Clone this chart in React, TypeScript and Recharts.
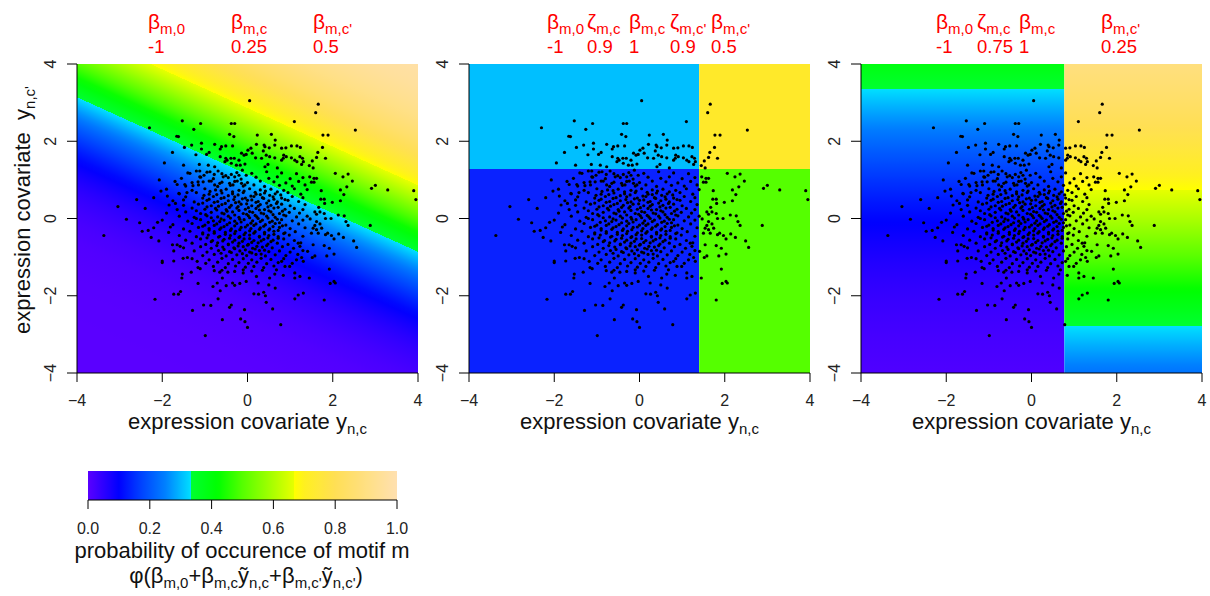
import React from 'react';
import { ScatterChart, Scatter, XAxis, YAxis, ReferenceArea } from 'recharts';

// ---------- data ----------
const axisTicks = [-4, -2, 0, 2, 4];
const barTicks = [0, 0.2, 0.4, 0.6, 0.8, 1.0];

const panel1Params = [
    { sym: 'β', sub: 'm,0', value: '-1' },
    { sym: 'β', sub: 'm,c', value: '0.25' },
    { sym: 'β', sub: "m,c'", value: '0.5' },
];
const panel2Params = [
    { sym: 'β', sub: 'm,0', value: '-1' },
    { sym: 'ζ', sub: 'm,c', value: '0.9' },
    { sym: 'β', sub: 'm,c', value: '1' },
    { sym: 'ζ', sub: "m,c'", value: '0.9' },
    { sym: 'β', sub: "m,c'", value: '0.5' },
];
const panel3Params = [
    { sym: 'β', sub: 'm,0', value: '-1' },
    { sym: 'ζ', sub: 'm,c', value: '0.75' },
    { sym: 'β', sub: 'm,c', value: '1' },
    { sym: 'β', sub: "m,c'", value: '0.25' },
];

// points above the dense core
const upperPoints = [
    [-1.53, 2.53], [-1.1, 2.46], [-2.3, 2.35], [-1.26, 2.31], [-0.38, 2.46], [-0.3, 2.46], [-1.66, 2.13], [-1.62, 2.12],
    [-0.42, 2.18], [-0.32, 2.12], [-1.48, 1.84], [-1.31, 1.9], [-1.08, 1.95], [-1.08, 1.8], [-0.77, 1.92], [-0.61, 1.86],
    [-0.51, 1.88], [-0.64, 1.8], [-0.35, 1.88], [-1.76, 1.71], [-1.21, 1.65], [-0.96, 1.66], [-0.9, 1.71], [-0.64, 1.6],
    [-0.51, 1.56], [-0.48, 1.51], [-0.53, 1.47], [-0.39, 1.56], [-0.31, 1.56], [-0.2, 1.51], [-0.14, 1.69], [-0.08, 1.64],
    [-0.03, 1.66], [-1.95, 1.44], [-1.5, 1.38], [-1.13, 1.4], [-0.92, 1.38], [-0.77, 1.34], [-0.38, 1.43], [-0.26, 1.38],
    [-0.17, 1.38], [-0.06, 1.41],
    [0.05, 3.05], [1.66, 2.96], [1.6, 2.74], [1.1, 2.51], [2.53, 2.29], [1.77, 2.16], [1.89, 2.16], [0.23, 2.16],
    [0.56, 2.18], [0.65, 2.03], [0.64, 1.9], [0.21, 1.92], [0.39, 1.9], [0.41, 1.86], [0.51, 1.83], [0.08, 1.82],
    [0.01, 1.77], [0.11, 1.69], [0.37, 1.75], [0.44, 1.64], [0.52, 1.6], [0.8, 1.82], [0.9, 1.83], [1.03, 1.88],
    [1.16, 1.88], [1.24, 1.84], [0.85, 1.64], [0.84, 1.56], [0.8, 1.51], [0.91, 1.6], [0.64, 1.57], [0.7, 1.31],
    [1.03, 1.57], [1.11, 1.51], [1.16, 1.47], [1.23, 1.6], [1.29, 1.56], [1.31, 1.47], [1.27, 1.4], [0.19, 1.57],
    [0.33, 1.56], [0.48, 1.4], [0.41, 1.34], [1.76, 1.84], [1.65, 1.71], [1.62, 1.58], [1.83, 1.56], [1.52, 1.49],
    [1.45, 1.37], [1.54, 1.31],
];

// points left of the core
const leftPoints = [
    [-2.07, 1.0], [-2.03, 0.71], [-1.88, 0.58], [-2.6, 0.49], [-3.04, 0.31], [-2.84, -0.02], [-1.84, 0.35], [-1.69, 0.39],
    [-1.65, 0.88], [-1.47, 0.88], [-1.61, 0.65], [-1.42, 0.67], [-1.5, 0.48], [-1.35, 1.17], [-1.28, 0.85], [-1.16, 0.95],
    [-1.12, 1.08], [-1.2, 1.23], [-1.12, 1.23], [-1.02, 1.12], [-0.88, 1.21], [-0.78, 1.14], [-0.69, 1.23], [-1.04, 0.95],
    [-0.85, 0.97], [-0.77, 0.87], [-0.65, 0.91], [-0.57, 1.08], [-0.51, 1.11], [-0.38, 1.14], [-0.3, 1.08], [-0.2, 1.12],
    [-0.12, 1.25], [-0.03, 1.12], [-0.42, 0.91], [-0.34, 0.87], [-0.24, 0.97], [-0.14, 0.91], [-0.06, 0.87],
    [-3.37, -0.44], [-2.53, -0.11], [-2.47, -0.33], [-2.33, -0.31], [-2.11, -0.1], [-2.26, -0.49], [-2.08, -0.58],
    [-1.81, -0.22], [-2.0, -1.1], [-2.0, -1.14], [-1.76, -0.68], [-1.65, -0.68], [-1.58, -0.72], [-1.73, -0.84],
    [-1.51, -1.03], [-1.41, -1.01], [-1.73, -1.1],
];

// points below the core
const lowerPoints = [
    [-2.17, -2.09], [-1.53, -1.44], [-1.54, -1.54], [-1.73, -1.96], [-1.62, -1.96], [-1.57, -1.89], [-1.29, -2.38],
    [-0.99, -3.03], [-1.03, -2.24], [-0.86, -2.25], [-1.16, -1.68], [-1.32, -1.39], [-1.16, -1.27], [-1.11, -1.3],
    [-1.18, -1.11], [-0.78, -1.35], [-0.65, -1.39], [-0.46, -1.39], [-0.59, -1.54], [-0.71, -1.67], [-0.81, -1.76],
    [-0.69, -2.08], [-0.64, -1.87], [-0.5, -1.74], [-0.35, -1.67], [-0.3, -1.73], [-0.42, -2.3], [-0.38, -2.24],
    [-0.59, -2.62], [-0.16, -2.6], [-0.07, -2.36], [-0.06, -2.67], [0.0, -2.82], [-0.18, -1.68], [-0.03, -1.63],
    [-0.1, -1.41], [0.44, -2.17], [0.59, -2.34], [0.78, -2.75], [0.15, -1.95], [0.26, -1.96], [0.38, -1.91],
    [0.42, -2.0], [1.11, -2.08], [1.19, -1.98], [1.31, -1.93], [0.65, -1.8], [0.5, -1.72], [0.25, -1.67], [0.21, -1.5],
    [0.52, -1.54], [0.64, -1.44], [0.84, -1.47], [1.11, -1.54], [1.23, -1.5], [1.11, -1.41], [0.99, -1.24], [0.88, -1.24],
    [0.8, -1.11], [0.68, -1.33], [1.15, -1.07], [1.27, -1.01], [1.31, -1.11], [1.19, -0.64], [1.23, -0.72],
];

// points right of the core
const rightPoints = [
    [2.06, 1.17], [2.24, 1.08], [2.36, 1.15], [2.46, 0.97], [2.33, 0.82], [2.91, 0.78], [3.0, 0.86], [3.29, 0.74],
    [3.9, 0.72], [3.95, 0.49], [2.18, 0.74], [2.26, 0.62], [2.18, 0.46], [1.99, 0.42], [1.81, 0.39], [1.72, 0.5],
    [1.8, 0.5], [1.73, 0.72], [1.56, 1.04], [1.62, 1.04], [1.5, 0.94], [1.46, 1.08], [1.56, 0.94], [1.67, 0.29],
    [1.7, 0.17], [1.58, 0.17], [1.62, 0.11], [1.8, 0.13], [1.83, 0.0], [1.96, 0.0], [2.13, 0.09], [2.27, 0.07],
    [2.88, -0.18], [2.49, -0.58], [2.56, -0.75], [2.31, -0.08], [2.36, -0.18], [2.25, -0.49], [2.14, -0.4],
    [2.03, -0.53], [1.97, -0.44], [1.88, -0.38], [1.83, -0.42], [1.62, -0.08], [1.7, -0.14], [1.58, -0.18],
    [1.54, -0.25], [1.62, -0.29], [1.66, -0.38], [1.74, -0.25], [1.54, -0.68], [1.8, -0.7], [1.92, -0.77],
    [2.03, -0.92], [1.86, -0.97], [1.58, -0.97], [1.52, -1.01], [1.92, -1.31], [1.45, -1.54], [1.94, -1.68],
    [2.03, -1.63], [2.06, -1.67], [1.8, -2.11], [1.47, -0.01], [1.5, -0.38], [1.41, -0.85],
];

// dense core, estimated row by row
const corePoints = [
    [-1.4, 1.18], [-0.95, 1.2], [-0.6, 1.16], [-0.25, 1.19], [0.1, 1.17], [0.45, 1.21], [0.8, 1.18], [1.15, 1.16],
    [-1.55, 1.04], [-1.1, 1.07], [-0.8, 1.03], [-0.45, 1.06], [-0.15, 1.02], [0.2, 1.07], [0.5, 1.04], [0.7, 1.08], [1.0, 1.03], [1.3, 1.06],
    [-1.7, 0.96], [-1.3, 0.93], [-0.9, 0.97], [-0.6, 0.94], [-0.3, 0.96], [0.0, 0.93], [0.3, 0.97], [0.62, 0.95], [0.9, 0.92], [1.2, 0.96],
    [-1.45, 0.84], [-1.15, 0.87], [-0.7, 0.83], [-0.4, 0.86], [-0.1, 0.84], [0.15, 0.87], [0.4, 0.83], [0.75, 0.86], [1.05, 0.84], [1.35, 0.87],
    [-1.9, 0.76], [-1.3, 0.73], [-1.0, 0.77], [-0.75, 0.74], [-0.5, 0.76], [-0.2, 0.73], [0.05, 0.77], [0.3, 0.74], [0.55, 0.76], [0.85, 0.73], [1.1, 0.77], [1.4, 0.75],
    [-1.6, 0.64], [-1.2, 0.67], [-0.9, 0.63], [-0.6, 0.66], [-0.35, 0.64], [-0.1, 0.67], [0.2, 0.63], [0.4, 0.66], [0.65, 0.64], [0.95, 0.67], [1.25, 0.63],
    [-2.2, 0.54], [-1.45, 0.56], [-1.05, 0.53], [-0.8, 0.57], [-0.55, 0.54], [-0.3, 0.56], [-0.05, 0.53], [0.15, 0.57], [0.35, 0.54], [0.6, 0.56], [0.8, 0.53], [1.05, 0.57], [1.3, 0.54],
    [-1.75, 0.46], [-1.25, 0.43], [-0.95, 0.47], [-0.7, 0.44], [-0.45, 0.46], [-0.2, 0.43], [0.0, 0.47], [0.25, 0.44], [0.5, 0.46], [0.7, 0.43], [0.95, 0.47], [1.2, 0.44],
    [-1.5, 0.34], [-1.15, 0.37], [-0.85, 0.33], [-0.6, 0.36], [-0.38, 0.34], [-0.15, 0.37], [0.1, 0.33], [0.3, 0.36], [0.55, 0.34], [0.8, 0.37], [1.0, 0.33], [1.35, 0.36],
    [-2.4, 0.26], [-1.65, 0.23], [-1.3, 0.27], [-1.0, 0.24], [-0.75, 0.26], [-0.5, 0.23], [-0.25, 0.27], [-0.05, 0.24], [0.2, 0.26], [0.4, 0.23], [0.62, 0.27], [0.88, 0.24], [1.1, 0.26], [1.3, 0.23],
    [-1.9, 0.14], [-1.45, 0.17], [-1.1, 0.13], [-0.85, 0.16], [-0.6, 0.14], [-0.35, 0.17], [-0.1, 0.13], [0.12, 0.16], [0.32, 0.14], [0.55, 0.17], [0.75, 0.13], [0.98, 0.16], [1.22, 0.14],
    [-1.6, 0.06], [-1.25, 0.03], [-0.95, 0.07], [-0.7, 0.04], [-0.45, 0.06], [-0.2, 0.03], [0.02, 0.07], [0.22, 0.04], [0.45, 0.06], [0.65, 0.03], [0.9, 0.07], [1.15, 0.04], [1.4, 0.06],
    [-2.0, -0.04], [-1.4, -0.07], [-1.1, -0.03], [-0.8, -0.06], [-0.55, -0.04], [-0.3, -0.07], [-0.08, -0.03], [0.12, -0.06], [0.35, -0.04], [0.58, -0.07], [0.8, -0.03], [1.05, -0.06], [1.3, -0.04],
    [-1.75, -0.16], [-1.3, -0.13], [-1.0, -0.17], [-0.72, -0.14], [-0.48, -0.16], [-0.25, -0.13], [0.0, -0.17], [0.2, -0.14], [0.42, -0.16], [0.65, -0.13], [0.9, -0.17], [1.2, -0.14],
    [-2.2, -0.24], [-1.5, -0.27], [-1.15, -0.23], [-0.9, -0.26], [-0.62, -0.24], [-0.38, -0.27], [-0.15, -0.23], [0.08, -0.26], [0.3, -0.24], [0.52, -0.27], [0.75, -0.23], [1.0, -0.26], [1.35, -0.24],
    [-1.85, -0.36], [-1.35, -0.33], [-1.05, -0.37], [-0.78, -0.34], [-0.52, -0.36], [-0.28, -0.33], [-0.05, -0.37], [0.18, -0.34], [0.4, -0.36], [0.62, -0.33], [0.88, -0.37], [1.12, -0.34],
    [-1.6, -0.44], [-1.2, -0.47], [-0.92, -0.43], [-0.65, -0.46], [-0.4, -0.44], [-0.18, -0.47], [0.05, -0.43], [0.28, -0.46], [0.5, -0.44], [0.72, -0.47], [0.98, -0.43], [1.3, -0.46],
    [-1.45, -0.56], [-1.1, -0.53], [-0.82, -0.57], [-0.55, -0.54], [-0.3, -0.56], [-0.08, -0.53], [0.15, -0.57], [0.38, -0.54], [0.6, -0.56], [0.85, -0.53], [1.1, -0.57],
    [-1.3, -0.64], [-0.98, -0.67], [-0.7, -0.63], [-0.45, -0.66], [-0.2, -0.64], [0.02, -0.67], [0.25, -0.63], [0.48, -0.66], [0.7, -0.64], [0.95, -0.67], [1.25, -0.63],
    [-1.5, -0.76], [-1.1, -0.73], [-0.85, -0.77], [-0.58, -0.74], [-0.32, -0.76], [-0.1, -0.73], [0.12, -0.77], [0.35, -0.74], [0.58, -0.76], [0.82, -0.73], [1.08, -0.77],
    [-1.25, -0.84], [-0.95, -0.87], [-0.68, -0.83], [-0.42, -0.86], [-0.18, -0.84], [0.05, -0.87], [0.28, -0.83], [0.5, -0.86], [0.75, -0.84], [1.0, -0.87], [1.3, -0.83],
    [-1.05, -0.96], [-0.78, -0.93], [-0.5, -0.97], [-0.25, -0.94], [-0.02, -0.96], [0.2, -0.93], [0.42, -0.97], [0.65, -0.94], [0.9, -0.96], [1.18, -0.93],
    [-1.3, -1.04], [-0.9, -1.07], [-0.6, -1.03], [-0.35, -1.06], [-0.1, -1.04], [0.1, -1.07], [0.32, -1.03], [0.55, -1.06], [0.85, -1.04],
    [-0.98, -1.16], [-0.7, -1.13], [-0.45, -1.17], [-0.2, -1.14], [0.02, -1.16], [0.22, -1.13], [0.45, -1.17], [0.72, -1.14], [1.05, -1.16],
    [-0.8, -1.24], [-0.52, -1.27], [-0.28, -1.23], [-0.05, -1.26], [0.15, -1.24], [0.38, -1.27], [0.62, -1.23],
    [-0.6, -1.34], [-0.3, -1.37], [-0.1, -1.33], [0.1, -1.36], [0.35, -1.34],
];

// extra points where the cloud is darkest
const centerPoints = [
    [-0.88, 0.7], [-0.62, 0.72], [-0.35, 0.69], [-0.08, 0.71], [0.18, 0.68], [0.42, 0.71], [0.7, 0.69],
    [-1.02, 0.6], [-0.72, 0.62], [-0.45, 0.59], [-0.22, 0.61], [0.08, 0.58], [0.3, 0.62], [0.52, 0.6], [0.78, 0.61],
    [-0.9, 0.5], [-0.62, 0.52], [-0.32, 0.49], [-0.12, 0.51], [0.1, 0.48], [0.38, 0.52], [0.62, 0.5], [0.88, 0.49],
    [-1.05, 0.4], [-0.78, 0.42], [-0.52, 0.39], [-0.28, 0.41], [-0.02, 0.38], [0.2, 0.42], [0.45, 0.4], [0.68, 0.39],
    [-0.95, 0.3], [-0.68, 0.32], [-0.42, 0.29], [-0.22, 0.31], [0.02, 0.28], [0.25, 0.32], [0.48, 0.3], [0.72, 0.29],
    [-1.2, 0.2], [-0.72, 0.22], [-0.48, 0.19], [-0.2, 0.21], [0.05, 0.18], [0.28, 0.22], [0.5, 0.2], [0.82, 0.19],
    [-0.98, 0.1], [-0.55, 0.12], [-0.3, 0.09], [-0.02, 0.11], [0.18, 0.08], [0.38, 0.12], [0.6, 0.1], [0.85, 0.09],
    [-1.2, 0.0], [-0.85, 0.02], [-0.62, -0.01], [-0.4, 0.01], [-0.18, -0.02], [0.05, 0.02], [0.25, 0.0], [0.48, 0.01], [0.7, -0.02],
    [-0.92, -0.1], [-0.65, -0.08], [-0.42, -0.11], [-0.15, -0.09], [0.08, -0.12], [0.3, -0.08], [0.52, -0.1], [0.75, -0.11],
    [-1.05, -0.2], [-0.78, -0.18], [-0.55, -0.21], [-0.3, -0.19], [-0.05, -0.22], [0.15, -0.18], [0.38, -0.2], [0.6, -0.21], [0.82, -0.19],
    [-0.9, -0.3], [-0.65, -0.28], [-0.4, -0.31], [-0.18, -0.29], [0.05, -0.32], [0.28, -0.28], [0.5, -0.3], [0.72, -0.31],
    [-1.05, -0.4], [-0.78, -0.38], [-0.52, -0.41], [-0.3, -0.39], [-0.08, -0.42], [0.15, -0.38], [0.4, -0.4], [0.62, -0.41], [0.85, -0.39],
    [-0.95, -0.5], [-0.68, -0.48], [-0.42, -0.51], [-0.2, -0.49], [0.05, -0.52], [0.28, -0.48], [0.48, -0.5], [0.72, -0.51],
    [-0.85, -0.6], [-0.58, -0.58], [-0.35, -0.61], [-0.12, -0.59], [0.1, -0.62], [0.32, -0.58], [0.55, -0.6],
    [-0.72, -0.7], [-0.45, -0.68], [-0.22, -0.71], [0.0, -0.69], [0.22, -0.72], [0.45, -0.7],
    [-0.55, -0.8], [-0.3, -0.78], [-0.05, -0.81], [0.18, -0.79], [0.4, -0.82],
    [-0.62, -0.9], [-0.38, -0.88], [-0.12, -0.91], [0.1, -0.89], [0.32, -0.92],
];

const points = [...upperPoints, ...leftPoints, ...lowerPoints, ...rightPoints, ...corePoints, ...centerPoints]
    .map(([x, y]) => ({ x, y }));

// split points and flat colours of the tree panel (panel 2)
const panel2SplitX = 1.4;
const panel2SplitY = 1.28;
const panel2Fill = { topLeft: '#00bfff', bottomLeft: '#0a22ff', topRight: '#ffe92a', bottomRight: '#55ff00' };
// panel 3 split
const panel3SplitX = 0.77;

// ---------- colour scale ----------
const colorStops: [number, string][] = [
    [0, '#5a00ff'], [0.1, '#0000ff'], [0.17, '#0040ff'], [0.25, '#0080ff'], [0.3333, '#00e0ff'],
    [0.3334, '#00ff30'], [0.42, '#00ff00'], [0.5, '#55ff00'], [0.6666, '#e6ff00'],
    [0.6667, '#ffff00'], [0.7, '#fff020'], [0.8, '#ffdf55'], [1, '#ffe0b0'],
];

const hex = (c: string) => [1, 3, 5].map(i => parseInt(c.slice(i, i + 2), 16));
function probColor(p: number) {
    p = Math.min(1, Math.max(0, p));
    for (let i = 1; i < colorStops.length; i++) {
        const [p1, c1] = colorStops[i];
        if (p <= p1) {
            const [p0, c0] = colorStops[i - 1];
            const t = p1 === p0 ? 0 : (p - p0) / (p1 - p0);
            const a = hex(c0), b = hex(c1);
            return `rgb(${a.map((v, k) => Math.round(v + (b[k] - v) * t)).join(',')})`;
        }
    }
    return colorStops[colorStops.length - 1][1];
}

function erf(x: number) {
    const s = Math.sign(x);
    x = Math.abs(x);
    const t = 1 / (1 + 0.3275911 * x);
    const y = 1 - ((((1.061405429 * t - 1.453152027) * t + 1.421413741) * t - 0.284496736) * t + 0.254829592) * t * Math.exp(-x * x);
    return s * y;
}
const phi = (z: number) => 0.5 * (1 + erf(z / Math.SQRT2));

// gradient stops for a linear predictor running from lo (offset 0) to hi (offset 1)
function predictorStops(lo: number, hi: number, n = 80) {
    const stops: { o: number; c: string }[] = [];
    for (let i = 0; i <= n; i++) stops.push({ o: i / n, c: probColor(phi(lo + (hi - lo) * i / n)) });
    [-0.430727, 0.430727].forEach(e => {
        if (e > lo && e < hi) {
            const o = (e - lo) / (hi - lo);
            stops.push({ o, c: probColor(phi(e) - 0.0002) }, { o, c: probColor(phi(e) + 0.0002) });
        }
    });
    return stops.sort((a, b) => a.o - b.o);
}
function barStops(n = 80) {
    const stops: { o: number; c: string }[] = [];
    for (let i = 0; i <= n; i++) stops.push({ o: i / n, c: probColor(i / n) });
    [1 / 3, 2 / 3].forEach(e => stops.push({ o: e, c: probColor(e - 0.0002) }, { o: e, c: probColor(e + 0.0002) }));
    return stops.sort((a, b) => a.o - b.o);
}

const Grad = ({ id, stops, x1, y1, x2, y2 }: any) => (
    <linearGradient id={id} x1={x1} y1={y1} x2={x2} y2={y2}>
        {stops.map((s: any, i: number) => <stop key={i} offset={s.o} stopColor={s.c} />)}
    </linearGradient>
);

// ---------- layout ----------
const FONT = "'Liberation Sans', Arial, Helvetica, sans-serif";
const RED = '#ff0000';
const PLOT_TOP = 64;
const PLOT_W = 341;
const PLOT_H = 309;
const Y_AXIS_W = 70;
const X_AXIS_H = 40;
const PAD_R = 20;
const TICK_FONT = 16;
const TITLE_FONT = 22;

const minus = (v: number) => String(v).replace('-', '\u2212');

const YTick = (props: any) => {
    const { x, y, payload } = props;
    const cx = x - 15;
    return (
        <text x={cx} y={y} transform={`rotate(-90 ${cx} ${y})`} textAnchor="middle" dominantBaseline="central"
            style={{ fontSize: TICK_FONT, fontFamily: FONT }} fill="#222">{minus(payload.value)}</text>
    );
};

// x ticks: label centre sits ~0.35em below the given y
const XTick = (props: any) => {
    const { x, y, payload, fmt } = props;
    return (
        <text x={x} y={y + TICK_FONT * 0.35} textAnchor="middle" dominantBaseline="central"
            style={{ fontSize: TICK_FONT, fontFamily: FONT }} fill="#222">{fmt(payload.value)}</text>
    );
};

const Dot = (props: any) => <circle cx={props.cx} cy={props.cy} r={1.6} fill="#000" />;

function Panel({ left, children, defs }: any) {
    return (
        <div style={{ position: 'absolute', left: left - Y_AXIS_W, top: 0 }}>
            <ScatterChart width={Y_AXIS_W + PLOT_W + PAD_R} height={PLOT_TOP + PLOT_H + X_AXIS_H}
                margin={{ top: PLOT_TOP, right: PAD_R, bottom: 0, left: 0 }}>
                <defs>{defs}</defs>
                <XAxis type="number" dataKey="x" domain={[-4, 4]} ticks={axisTicks} interval={0} height={X_AXIS_H}
                    tickSize={9} tickMargin={13} axisLine={{ stroke: '#000' }} tickLine={{ stroke: '#000' }}
                    tick={<XTick fmt={minus} />} />
                <YAxis type="number" dataKey="y" domain={[-4, 4]} ticks={axisTicks} interval={0} width={Y_AXIS_W}
                    tickSize={10} axisLine={{ stroke: '#000' }} tickLine={{ stroke: '#000' }} tick={<YTick />} />
                {children}
                <Scatter data={points} shape={Dot} isAnimationActive={false} />
            </ScatterChart>
        </div>
    );
}

const Sub = ({ children, size }: any) => (
    <span style={{ fontSize: size, position: 'relative', top: size * 0.3 }}>{children}</span>
);

function ParamLabels({ params, lefts }: any) {
    return params.map((p: any, i: number) => (
        <React.Fragment key={i}>
            <div style={{ position: 'absolute', left: lefts[i], top: 11, fontSize: 21, lineHeight: '21px', color: RED, whiteSpace: 'nowrap' }}>
                {p.sym}<Sub size={15}>{p.sub}</Sub>
            </div>
            <div style={{ position: 'absolute', left: lefts[i], top: 37, fontSize: 18.5, lineHeight: '19px', color: RED, whiteSpace: 'nowrap' }}>
                {p.value}
            </div>
        </React.Fragment>
    ));
}

const textLine = (top: number): React.CSSProperties => ({
    position: 'absolute', top, fontSize: TITLE_FONT, lineHeight: '26px', textAlign: 'center', whiteSpace: 'nowrap',
});

const XTitle = ({ left }: any) => (
    <div style={{ ...textLine(409), left: left - 30, width: PLOT_W + 60 }}>
        expression covariate y<Sub size={15}>n,c</Sub>
    </div>
);

export default function App() {
    const lefts = [77, 469, 861];
    return (
        <div style={{ position: 'absolute', left: 0, top: 0, width: 1210, height: 596, background: '#fff', fontFamily: FONT, color: '#111', overflow: 'hidden' }}>
            {/* panel 1: linear predictor -1 + 0.25 y_c + 0.5 y_c' */}
            <Panel left={lefts[0]} defs={<Grad id="bgLinear" x1={0} y1={1} x2={0.6} y2={-0.2} stops={predictorStops(-4, 2)} />}>
                <ReferenceArea x1={-4} x2={4} y1={-4} y2={4} fill="url(#bgLinear)" fillOpacity={1} stroke="none" />
            </Panel>

            {/* panel 2: hard splits */}
            <Panel left={lefts[1]}>
                <ReferenceArea x1={-4} x2={panel2SplitX} y1={panel2SplitY} y2={4} fill={panel2Fill.topLeft} fillOpacity={1} stroke="none" />
                <ReferenceArea x1={-4} x2={panel2SplitX} y1={-4} y2={panel2SplitY} fill={panel2Fill.bottomLeft} fillOpacity={1} stroke="none" />
                <ReferenceArea x1={panel2SplitX} x2={4} y1={panel2SplitY} y2={4} fill={panel2Fill.topRight} fillOpacity={1} stroke="none" />
                <ReferenceArea x1={panel2SplitX} x2={4} y1={-4} y2={panel2SplitY} fill={panel2Fill.bottomRight} fillOpacity={1} stroke="none" />
            </Panel>

            {/* panel 3: split on y_c, linear in y_c' */}
            <Panel left={lefts[2]} defs={<>
                <Grad id="bgLeft3" x1={0} y1={1} x2={0} y2={0} stops={predictorStops(-1.25 - 0.244 * 4, -1.25 + 0.244 * 4)} />
                <Grad id="bgRight3" x1={0} y1={1} x2={0} y2={0} stops={predictorStops(0.25 - 0.244 * 4, 0.25 + 0.244 * 4)} />
            </>}>
                <ReferenceArea x1={-4} x2={panel3SplitX} y1={-4} y2={4} fill="url(#bgLeft3)" fillOpacity={1} stroke="none" />
                <ReferenceArea x1={panel3SplitX} x2={4} y1={-4} y2={4} fill="url(#bgRight3)" fillOpacity={1} stroke="none" />
            </Panel>

            <ParamLabels params={panel1Params} lefts={[148, 231, 313]} />
            <ParamLabels params={panel2Params} lefts={[547, 587, 629, 670, 711]} />
            <ParamLabels params={panel3Params} lefts={[936, 977, 1019, 1101]} />

            {lefts.map(l => <XTitle key={l} left={l} />)}

            <div style={{ ...textLine(210 - 13), left: 23 - 160, width: 320, height: 26, transform: 'rotate(-90deg)' }}>
                expression covariate&nbsp; y<Sub size={15}>n,c'</Sub>
            </div>

            {/* colour key */}
            <div style={{ position: 'absolute', left: 88 - 20, top: 471 }}>
                <ScatterChart width={309 + 40} height={29 + 60} margin={{ top: 0, right: 20, bottom: 0, left: 20 }}>
                    <defs><Grad id="barGrad" x1={0} y1={0} x2={1} y2={0} stops={barStops()} /></defs>
                    <XAxis type="number" dataKey="x" domain={[0, 1]} ticks={barTicks} interval={0} height={60}
                        tickSize={9} tickMargin={14} axisLine={{ stroke: '#000' }} tickLine={{ stroke: '#000' }}
                        tick={<XTick fmt={(v: number) => v.toFixed(1)} />} />
                    <YAxis type="number" dataKey="y" domain={[0, 1]} hide />
                    <ReferenceArea x1={0} x2={1} y1={0} y2={1} fill="url(#barGrad)" fillOpacity={1} stroke="none" />
                    <Scatter data={barTicks.map(t => ({ x: t, y: 0 }))} shape={() => null} isAnimationActive={false} />
                </ScatterChart>
            </div>
            <div style={{ ...textLine(538), left: 22, width: 440 }}>
                probability of occurence of motif m
            </div>
            <div style={{ ...textLine(563), left: 26, width: 440 }}>
                φ(β<Sub size={15}>m,0</Sub>+β<Sub size={15}>m,c</Sub>ỹ<Sub size={15}>n,c</Sub>+β<Sub size={15}>m,c'</Sub>ỹ<Sub size={15}>n,c'</Sub>)
            </div>
        </div>
    );
}
